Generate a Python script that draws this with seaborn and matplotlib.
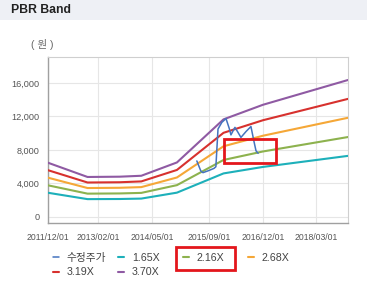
import numpy as np
import pandas as pd
import matplotlib
matplotlib.use("Agg")
import matplotlib.pyplot as plt
import matplotlib.dates as mdates
import matplotlib.ticker as mticker
from matplotlib.patches import Rectangle
import seaborn as sns

# ---------------- data ----------------
band_dates = ["2011-12-01", "2012-11-01", "2013-08-01", "2014-02-01",
              "2014-12-01", "2016-01-01", "2016-12-01", "2018-11-24"]
band_165 = [2890, 2130, 2145, 2195, 2905, 5200, 5975, 7295]
band_216 = [3780, 2785, 2810, 2875, 3800, 6805, 7820, 9545]
band_268 = [4690, 3455, 3485, 3565, 4715, 8440, 9700, 11845]
band_319 = [5585, 4115, 4145, 4245, 5615, 10050, 11550, 14100]
band_370 = [6475, 4775, 4810, 4920, 6510, 11655, 13395, 16355]

price_dates = ["2015-05-19", "2015-06-22", "2015-07-10", "2015-08-21", "2015-10-12",
               "2015-10-28", "2015-11-15", "2015-12-18", "2016-01-22", "2016-02-18",
               "2016-03-04", "2016-04-07", "2016-05-03", "2016-05-28", "2016-07-10",
               "2016-08-21", "2016-09-16", "2016-10-03", "2016-10-21"]
price_vals = [6690, 5490, 5290, 5500, 5800, 6000, 10500, 11300, 11750, 10600,
              9800, 10700, 10100, 9500, 10200, 10800, 9000, 7900, 7600]

labels = ["수정주가", "1.65X", "2.16X", "2.68X", "3.19X", "3.70X"]
colors = ["#4473bf", "#1db0ba", "#8db24e", "#f5a737", "#d7312e", "#8f5aa3"]

x_ticks = ["2011-12-01", "2013-02-01", "2014-05-01", "2015-09-01", "2016-12-01", "2018-03-01"]
y_ticks = [0, 4000, 8000, 12000, 16000]

# ---------------- figure ----------------
sns.set_theme(style="white")
plt.rcParams["font.family"] = ["Liberation Sans", "Noto Sans CJK KR", "DejaVu Sans"]

W, H = 367, 291
fig = plt.figure(figsize=(W / 100, H / 100), dpi=100)
fig.patch.set_facecolor("white")

# header band
fig.add_artist(Rectangle((0, 1 - 20 / H), 1, 20 / H, transform=fig.transFigure,
                         facecolor="#eef0f5", edgecolor="none", zorder=0))
fig.text(11 / W, 1 - 10 / H, "PBR Band", fontsize=8.8, fontweight="bold",
         color="#222222", va="center", ha="left")
fig.text(31 / W, 1 - 45 / H, "( 원 )", fontsize=7.6, color="#666666",
         va="center", ha="left")

ax = fig.add_axes([48 / W, 1 - 223 / H, 300 / W, 166 / H])

bd = pd.to_datetime(band_dates)
series = [band_165, band_216, band_268, band_319, band_370]
for vals, lab, col in zip(series, labels[1:], colors[1:]):
    sns.lineplot(x=bd, y=vals, ax=ax, color=col, linewidth=1.5, label=lab, zorder=3)
sns.lineplot(x=pd.to_datetime(price_dates), y=price_vals, ax=ax, color=colors[0],
             linewidth=1.1, label=labels[0], zorder=4, sort=False)
if ax.get_legend() is not None:
    ax.get_legend().remove()

ax.set_xlim(bd[0], bd[-1])
ax.set_ylim(-720, 19100)
ax.set_xticks(pd.to_datetime(x_ticks))
ax.xaxis.set_major_formatter(mdates.DateFormatter("%Y/%m/%d"))
ax.set_yticks(y_ticks)
ax.yaxis.set_major_formatter(mticker.FuncFormatter(lambda v, p: f"{int(v):,}"))
ax.set_xlabel("")
ax.set_ylabel("")

ax.grid(True, color="#e6e6e6", linewidth=0.8)
ax.set_axisbelow(True)
for s in ["top", "right"]:
    ax.spines[s].set_color("#cfcfcf")
    ax.spines[s].set_linewidth(0.8)
for s in ["left", "bottom"]:
    ax.spines[s].set_color("#a0a0a0")
    ax.spines[s].set_linewidth(1.0)
ax.tick_params(axis="both", which="major", length=4, width=0.8, color="#a0a0a0",
               labelcolor="#555555", direction="out")
ax.tick_params(axis="y", labelsize=6.6, pad=2)
ax.tick_params(axis="x", labelsize=6.2, pad=3)

# highlight rectangle on plot
r0 = mdates.date2num(pd.Timestamp("2016-01-04"))
r1 = mdates.date2num(pd.Timestamp("2017-03-22"))
ax.add_patch(Rectangle((r0, 6410), r1 - r0, 9350 - 6410, fill=False,
                       edgecolor="#e3161c", linewidth=2.0, zorder=6, clip_on=False))

# legends (4 fixed-width columns)
handles = {l.get_label(): l for l in ax.get_lines()}
cols = [["수정주가", "3.19X"], ["1.65X", "3.70X"], ["2.16X"], ["2.68X"]]
col_x = [53, 118, 183, 248]
for names, cx in zip(cols, col_x):
    fig.legend([handles[n] for n in names], names, loc="upper left",
               bbox_to_anchor=(cx / W, 1 - 253 / H), frameon=False,
               fontsize=7.7, handlelength=0.6, handletextpad=0.7,
               labelspacing=0.4, borderpad=0, borderaxespad=0,
               labelcolor="#444444")

# highlight rectangle around legend entry
fig.add_artist(Rectangle((176 / W, 1 - 270 / H), 59 / W, 23 / H,
                         transform=fig.transFigure, fill=False,
                         edgecolor="#e3161c", linewidth=2.0, zorder=10))

fig.savefig("out.png", dpi=100)
